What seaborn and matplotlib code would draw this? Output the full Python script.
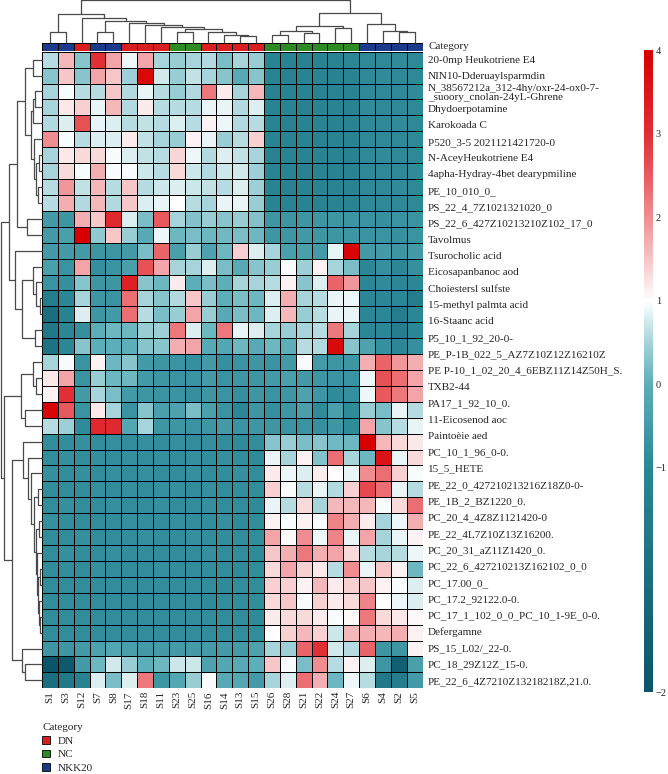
import numpy as np
import matplotlib
matplotlib.use("Agg")
import matplotlib.pyplot as plt
import seaborn as sns
from matplotlib.colors import LinearSegmentedColormap, ListedColormap, FuncNorm
from matplotlib.patches import Patch

samples = ["S1", "S3", "S12", "S7", "S8", "S17", "S18", "S11", "S23", "S25", "S16", "S14",
           "S13", "S15", "S26", "S28", "S21", "S22", "S24", "S27", "S6", "S4", "S2", "S5"]
sample_group = ["NKK20", "NKK20", "DN", "NKK20", "NKK20", "DN", "DN", "DN", "NC", "NC", "DN", "DN",
                "DN", "DN", "NC", "NC", "NC", "NC", "NC", "NC", "NKK20", "NKK20", "NKK20", "NKK20"]
groups = ["DN", "NC", "NKK20"]
group_colors = ["#d81e1e", "#2e8a22", "#1b3a8c"]

metabolites = [
    "20-0mp Heukotriene E4", "NIN10-Dderuaylsparmdin",
    "N_38567212a_312-4hy/oxr-24-ox0-7-\n_suoory_cnolan-24yL-Ghrene",
    "Dhydoerpotamine", "Karokoada C", "P520_3-5 2021121421720-0", "N-AceyHeukotriene E4",
    "4apha-Hydray-4bet dearypmiline", "PE_10_010_0_", "PS_22_4_7Z1021321020_0",
    "PS_22_6_427Z10213210Z102_17_0", "Tavolmus", "Tsurocholic acid", "Eicosapanbanoc aod",
    "Choiestersl sulfste", "15-methyl palmta acid", "16-Staanc acid", "P5_10_1_92_20-0-",
    "PE_P-1B_022_5_AZ7Z10Z12Z16210Z", "PE P-10_1_02_20_4_6EBZ11Z14Z50H_S.", "TXB2-44",
    "PA17_1_92_10_0.", "11-Eicosenod aoc", "Paintoèie aed", "PC_10_1_96_0-0.", "15_5_HETE",
    "PE_22_0_427210213216Z18Z0-0-", "PE_1B_2_BZ1220_0.", "PC_20_4_4Z8Z1121420-0",
    "PE_22_4L7Z10Z13Z16200.", "PC_20_31_aZ11Z1420_0.", "PC_22_6_427210213Z162102_0_0",
    "PC_17.00_0_", "PC_17.2_92122.0-0.", "PC_17_1_102_0_0_PC_10_1-9E_0-0.", "Defergamne",
    "PS_15_L02/_22-0.", "PC_18_29Z12Z_15-0.", "PE_22_6_4Z7210Z13218218Z,21.0.",
]

# z-scores, rows top to bottom, columns in sample order
values = [
    [0.6, 1.6, 0.3, 3.0, 1.8, 0.9, 1.8, 0.5, 0.4, 0.5, 0.55, 0.2, 0.5, 0.4, -1.05, -1.05, -1.1, -1.05, -1.05, -1.0, -0.95, -0.95, -0.9, -0.95],
    [0.3, 1.5, 0.3, 1.8, 1.5, 0.45, 3.8, 0.75, 0.4, 0.65, 0.5, 0.3, -0.1, 0.3, -1.05, -1.1, -1.05, -1.05, -1.1, -1.05, -0.95, -0.9, -0.95, -0.95],
    [0.5, 0.95, 0.6, 0.6, 1.5, 0.55, 0.85, 0.6, 0.4, 0.55, 2.2, 1.15, 0.5, 1.6, -1.1, -1.05, -1.05, -1.1, -1.05, -1.05, -0.95, -0.95, -0.95, -0.9],
    [0.5, 1.2, 1.4, 0.85, 1.6, 0.55, 1.15, 0.6, 0.6, 0.6, 0.85, 0.85, 0.55, 0.8, -1.05, -1.05, -1.1, -1.05, -1.05, -1.1, -0.9, -0.95, -0.95, -0.95],
    [0.55, 0.8, 2.6, 0.85, 0.8, 0.6, 0.65, 0.6, 0.8, 0.6, 1.1, 0.9, 0.55, 0.6, -1.05, -1.1, -1.05, -1.05, -1.1, -1.05, -0.95, -0.95, -0.9, -0.95],
    [2.0, 0.95, 0.6, 0.8, 0.8, 1.15, 0.65, 0.5, 0.4, 1.1, 0.85, 0.4, 0.6, 1.4, -1.05, -1.05, -1.05, -1.1, -1.05, -1.05, -0.95, -0.95, -0.95, -0.95],
    [0.5, 1.2, 1.3, 1.3, 0.95, 0.8, 0.65, 0.6, 1.35, 0.9, 0.55, 0.8, 0.65, 0.5, -1.1, -1.05, -1.05, -1.05, -1.05, -1.1, -0.95, -0.9, -0.95, -0.95],
    [0.5, 1.3, 0.95, 1.7, 0.95, 0.95, 0.7, 0.6, 1.3, 0.7, 0.55, 0.7, 0.75, 0.45, -1.05, -1.05, -1.1, -1.05, -1.1, -1.05, -0.95, -0.95, -0.95, -0.9],
    [0.6, 1.9, 0.65, 1.6, 0.6, 1.5, 0.6, 0.7, 0.8, 0.7, 0.65, 0.6, 0.8, 0.45, -1.05, -1.1, -1.05, -1.05, -1.05, -1.05, -0.95, -0.95, -0.9, -0.95],
    [0.6, 1.7, 0.55, 1.6, 0.55, 1.5, 0.8, 0.85, 0.98, 0.6, 0.5, 0.85, 0.85, 0.4, -1.05, -1.05, -1.05, -1.1, -1.05, -1.05, -0.95, -0.95, -0.95, -0.95],
    [-0.5, -0.6, 1.7, 1.5, 3.1, 0.8, 0.2, 2.5, 0.5, 0.25, 0.4, 0.3, 0.4, 0.25, -0.6, -0.65, -0.6, -0.6, -0.6, -0.65, -0.7, -0.75, -0.7, -0.7],
    [-0.5, -0.4, 4.0, 0.35, 1.5, 0.4, -0.1, 0.9, 0.1, 0.2, 0.1, 0.15, 0.2, 0.1, -0.6, -0.6, -0.55, -0.6, -0.6, -0.6, -0.7, -0.7, -0.75, -0.7],
    [-0.5, -0.5, -0.5, -0.6, -0.6, -0.5, 0.2, 2.4, -0.4, 0.4, -0.3, 0.1, 1.4, 0.8, 0.5, -0.4, -0.4, -0.5, 0.85, 3.9, -0.5, -0.5, -0.6, -0.5],
    [-0.4, -0.7, 1.8, -0.8, -0.7, -0.4, 2.6, 1.8, 0.5, 0.5, 0.8, 0.2, -0.1, 0.3, 0.4, 0.95, 0.45, 1.1, 0.5, 0.2, -1.0, -0.8, -1.0, -0.8],
    [-0.7, -0.8, 0.3, -0.6, -0.6, 3.3, 0.3, 0.1, 1.15, 0.0, 0.2, 0.0, 0.5, 0.5, 0.6, 1.1, 0.3, 0.8, 2.4, 1.9, -1.0, -0.9, -1.0, -1.0],
    [-1.2, -1.0, 0.5, -0.6, -0.7, 2.3, 0.5, 0.3, 0.55, 1.5, 0.4, 0.0, 0.2, 0.1, 0.8, 1.7, 0.5, 0.6, 0.85, 0.9, -1.0, -1.0, -1.0, -1.2],
    [-1.5, -1.1, 0.8, -0.6, -0.5, 2.3, 0.6, 0.2, 0.4, 1.8, 0.4, -0.1, 0.2, 0.1, 0.8, 1.6, 0.4, 0.6, 0.85, 0.85, -1.0, -1.0, -1.2, -1.0],
    [-1.3, -1.0, -0.8, 0.0, 0.1, 0.1, 0.4, 0.45, 2.2, 0.8, 0.1, 2.2, 0.85, 0.8, 0.5, 0.4, 0.5, 0.6, 2.2, 0.5, -1.0, -1.0, -1.2, -1.0],
    [-1.4, -1.0, 0.3, 0.0, 0.0, 0.0, 0.3, 0.3, 1.7, 1.8, -0.1, -0.2, 0.1, -0.1, 0.1, 0.0, 0.6, 0.55, 3.8, 0.3, -0.3, -0.8, -1.0, -0.8],
    [0.5, 0.95, -0.7, 1.1, 0.1, 0.3, -0.5, -0.6, -0.7, -0.8, -0.5, -0.8, -0.7, -0.6, -0.7, -0.5, 0.95, -0.5, -0.6, -0.6, 1.7, 2.4, 1.9, 1.7],
    [1.2, 1.8, -0.7, 0.4, 0.1, 0.1, -0.5, -0.6, -0.7, -0.7, -0.5, -0.7, -0.6, -0.6, -0.5, -0.4, -0.5, -0.6, -0.7, -0.7, 0.9, 2.6, 2.3, 1.8],
    [1.1, 3.0, -0.5, 0.5, 0.2, -0.5, -0.6, -0.7, -0.7, -0.8, -0.6, -0.7, -0.8, -0.6, -0.7, -0.6, -0.3, -0.6, -0.9, -0.8, 0.9, 2.5, 2.2, 1.8],
    [3.9, 2.5, -0.7, 1.2, 0.5, -0.7, 0.3, -0.4, -0.3, 0.2, -0.4, -0.7, -1.0, -0.6, -0.8, -0.6, -0.4, -0.9, -0.4, -0.9, 0.4, 0.2, 0.85, 0.6],
    [0.6, 0.45, -0.9, 3.1, 3.1, -0.2, 0.5, -0.6, -0.6, -0.7, -0.6, -0.5, -0.7, -0.6, -0.6, -0.7, -0.7, -0.8, -0.6, -0.9, 1.8, 0.3, 0.6, 0.85],
    [-0.85, -0.85, -0.8, -0.85, -0.8, -0.85, -0.8, -0.85, -0.8, -0.85, -0.8, -0.85, -0.9, -0.85, 0.3, 0.4, 0.2, 0.3, 0.15, 0.1, 4.0, 1.6, 1.3, 1.2],
    [-0.85, -0.8, -0.85, -0.8, -0.85, -0.8, -0.85, -0.8, -0.85, -0.8, -0.85, -0.8, -0.85, -0.9, 0.85, 0.5, 1.1, 0.25, 2.3, 0.5, 0.1, 3.6, 0.85, 1.3],
    [-0.8, -0.85, -0.8, -0.85, -0.8, -0.85, -0.8, -0.85, -0.85, -0.8, -0.85, -0.85, -0.8, -0.85, 1.15, 0.9, 0.8, 1.15, 1.0, 0.85, 2.0, 2.3, 1.4, 0.95],
    [-0.85, -0.85, -0.85, -0.8, -0.85, -0.8, -0.85, -0.8, -0.8, -0.85, -0.8, -0.85, -0.85, -0.85, 1.4, 0.95, 0.6, 0.85, 0.55, 1.4, 2.7, 2.3, 0.85, 0.6],
    [-0.85, -0.8, -0.85, -0.85, -0.8, -0.85, -0.85, -0.8, -0.85, -0.85, -0.8, -0.85, -0.85, -0.9, 0.85, 0.6, 1.3, 0.5, 1.6, 1.6, 1.6, 0.95, 1.3, 2.3],
    [-0.8, -0.85, -0.85, -0.85, -0.85, -0.8, -0.85, -0.85, -0.8, -0.85, -0.85, -0.8, -0.9, -0.85, 1.1, 0.95, 1.1, 0.95, 2.1, 1.7, 1.15, 0.5, 0.9, 1.7],
    [-0.85, -0.85, -0.8, -0.85, -0.85, -0.85, -0.8, -0.85, -0.85, -0.8, -0.85, -0.85, -0.85, -0.85, 1.8, 1.05, 2.0, 0.9, 2.1, 0.85, 1.8, 0.5, 0.85, 1.1],
    [-0.85, -0.8, -0.85, -0.85, -0.8, -0.85, -0.85, -0.85, -0.85, -0.85, -0.8, -0.85, -0.85, -0.9, 1.5, 1.7, 2.2, 1.7, 1.8, 1.3, 0.6, 0.5, 0.6, 0.9],
    [-0.85, -0.85, -0.85, -0.8, -0.85, -0.85, -0.85, -0.8, -0.85, -0.85, -0.85, -0.85, -0.9, -0.85, 1.3, 1.8, 1.4, 1.2, 0.6, 2.0, 0.85, 1.5, 1.1, 0.1],
    [-0.85, -0.85, -0.85, -0.85, -0.85, -0.85, -0.85, -0.85, -0.85, -0.85, -0.85, -0.9, -0.85, -0.85, 1.4, 1.4, 1.1, 1.6, 1.15, 1.4, 1.5, 1.1, 0.95, 0.8],
    [-0.85, -0.85, -0.85, -0.85, -0.85, -0.85, -0.85, -0.85, -0.85, -0.85, -0.9, -0.85, -0.85, -0.85, 1.3, 1.5, 0.95, 1.4, 1.15, 1.3, 2.1, 1.0, 0.9, 0.8],
    [-0.85, -0.85, -0.85, -0.85, -0.85, -0.85, -0.85, -0.85, -0.85, -0.85, -0.85, -0.85, -0.85, -0.9, 1.15, 1.3, 1.3, 1.15, 0.95, 1.05, 2.2, 1.3, 1.2, 1.05],
    [-0.85, -0.85, -0.85, -0.85, -0.85, -0.85, -0.85, -0.85, -0.85, -0.85, -0.85, -0.85, -0.85, -0.85, 1.0, 1.4, 1.6, 1.4, 0.7, 1.6, 1.7, 1.6, 1.7, 1.1],
    [-0.6, -0.6, -0.5, -0.3, -0.2, -0.4, -0.5, -0.5, -0.5, -0.5, -0.5, -0.5, -0.5, -0.3, 0.5, 0.45, 2.4, 3.0, 0.75, 0.6, 2.4, -0.6, -0.6, 1.1],
    [-2.0, -1.9, -0.5, 0.1, 0.75, 0.4, 0.0, 0.1, 0.7, 0.7, -0.3, -0.2, -0.1, 0.0, 1.5, 0.95, 0.2, 2.0, 0.6, 1.1, 0.8, -0.6, -1.8, -0.4],
    [-1.5, -1.3, -1.1, 0.8, 0.2, 0.8, 2.2, -0.6, -0.2, 0.4, 0.95, -0.1, -0.2, -0.5, 0.5, 0.8, 2.3, 1.7, 0.1, 0.9, 0.6, -1.3, -1.2, -0.5],
]

# dendrograms as (left, right, height); leaves are display positions
col_tree = (((0, 1, 31), (2, ((3, 4, 31), (5, (6, (7, ((8, 9, 31), (10, (11, (12, 13, 20), 23), 33), 40), 46), 53), 58), 66), 73), 86),
            ((((14, 15, 23), (16, 17, 28), 36), (18, 19, 43), 50), (20, (21, (22, 23, 31), 36), 56), 90), 128)
row_a = ((0, 1, 9), (((2, 3, 7), 4, 9), (5, ((6, 7, 3), (8, 9, 4), 6), 8), 11), 17)
row_c = (12, ((13, (14, (15, 16, 2), 6), 9), (17, 18, 7), 20), 27)
row_d = ((19, (20, 21, 6), 9), (22, 23, 17), 21)
row_e = (24, (25, (26, ((27, 28, 4), ((29, 30, 3), (31, ((32, 33, 2), (34, (35, 36, 2), 3), 4), 5), 6), 8), 11), 14), 19)
row_f = (37, (38, 39, 17), 20)
row_tree = (((row_a, (10, 11, 15), 25), row_c, 33), (row_d, (row_e, row_f, 30), 38), 41)


def draw_tree(ax, node, vertical):
    if isinstance(node, int):
        return node + 0.5, 0
    left, right, h = node
    c1, h1 = draw_tree(ax, left, vertical)
    c2, h2 = draw_tree(ax, right, vertical)
    xs, ys = [c1, c1, c2, c2], [h1, h, h, h2]
    if not vertical:
        xs, ys = ys, xs
    ax.plot(xs, ys, color="#4a4a4a", lw=0.9, clip_on=False, solid_capstyle="butt")
    return (c1 + c2) / 2, h


def fwd(x):
    x = np.asarray(x, dtype=float)
    return np.where(x < -1, (x + 2) * 0.349, 0.349 + (x + 1) * 0.651 / 5)


def inv(p):
    p = np.asarray(p, dtype=float)
    return np.where(p < 0.349, p / 0.349 - 2, (p - 0.349) * 5 / 0.651 - 1)


cmap = LinearSegmentedColormap.from_list("tealred", [
    (0.0, "#0b5568"), (0.349, "#2b8795"), (0.479, "#5caeb8"), (0.545, "#a6d4da"),
    (0.609, "#ffffff"), (0.674, "#f6c6c8"), (0.739, "#ef8f93"), (0.805, "#e85b60"),
    (0.87, "#e02f35"), (1.0, "#d70000")])
norm = FuncNorm((fwd, inv), vmin=-2, vmax=4)

sns.set_style("white")
plt.rcParams["font.family"] = ["Liberation Serif", "DejaVu Serif"]
plt.rcParams["font.size"] = 8

W, H = 668, 774
fig = plt.figure(figsize=(W / 100, H / 100), dpi=100)


def box(x0, y0, x1, y1):
    return [x0 / W, 1 - y1 / H, (x1 - x0) / W, (y1 - y0) / H]


ax = fig.add_axes(box(42, 51.7, 422.5, 688.3))
ax_cat = fig.add_axes(box(42, 42.7, 422.5, 50.7))
ax_top = fig.add_axes(box(42, 0, 422.5, 42.7))
ax_left = fig.add_axes(box(0, 51.7, 42, 688.3))
cax = fig.add_axes(box(644, 50, 653, 692))

sns.heatmap(np.array(values), ax=ax, cmap=cmap, norm=norm, cbar=False,
            linewidths=0.7, linecolor="black", xticklabels=samples, yticklabels=False)
ax.set_xticklabels(samples, rotation=90)
ax.yaxis.tick_right()
ax.set_yticks(np.linspace(0.5, len(values) - 0.5, len(metabolites)))
ax.set_yticklabels(metabolites, rotation=0, linespacing=1.0)
ax.tick_params(axis="x", length=0, pad=2, labelsize=8)
ax.tick_params(axis="y", length=0, pad=4, labelsize=8)

codes = np.array([[groups.index(g) for g in sample_group]])
sns.heatmap(codes, ax=ax_cat, cmap=ListedColormap(group_colors), vmin=-0.5, vmax=2.5,
            cbar=False, linewidths=0.7, linecolor="black", xticklabels=False, yticklabels=False)
ax_cat.annotate("Category", xy=(1, 0.5), xycoords="axes fraction", xytext=(4, 0),
                textcoords="offset points", va="center", ha="left", fontsize=8)

draw_tree(ax_top, col_tree, True)
ax_top.set_xlim(0, len(samples))
ax_top.set_ylim(0, 128.5)
ax_top.axis("off")

draw_tree(ax_left, row_tree, False)
ax_left.set_xlim(42.5, 0)
ax_left.set_ylim(len(values), 0)
ax_left.axis("off")

cb = fig.colorbar(ax.collections[0], cax=cax)
cb.set_ticks([-2, -1, 0, 1, 2, 3, 4])
cb.outline.set_visible(False)
cb.ax.tick_params(length=0, labelsize=7.5, pad=2)

handles = [Patch(facecolor=c, edgecolor="black", linewidth=0.6, label=g)
           for g, c in zip(groups, group_colors)]
fig.legend(handles=handles, title="Category", loc="upper left", bbox_to_anchor=(38 / W, 1 - 719 / H),
           frameon=False, alignment="left", fontsize=8, title_fontsize=8,
           handlelength=0.7, handleheight=0.7, handletextpad=0.7, labelspacing=0.33,
           borderaxespad=0)

fig.savefig("out.png", dpi=100)
